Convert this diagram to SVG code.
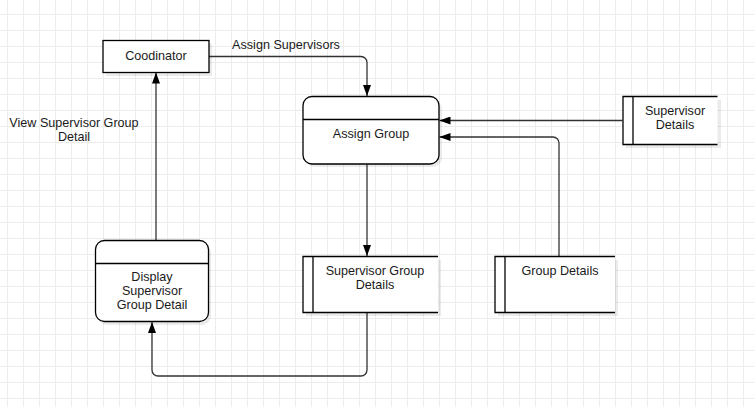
<svg xmlns="http://www.w3.org/2000/svg" width="754" height="407" viewBox="0 0 754 407">
<defs>
<pattern id="grid" x="7" y="14" width="16" height="16" patternUnits="userSpaceOnUse">
<path d="M0 0.5H16M0.5 0V16" fill="none" stroke="#ececec" stroke-width="1"/>
</pattern>
<marker id="arr" viewBox="0 0 11 8" refX="11" refY="4" markerWidth="11" markerHeight="8" markerUnits="userSpaceOnUse" orient="auto">
<path d="M0 0L11 4L0 8Z" fill="#000"/>
</marker>
<style>
.box{fill:#fff;stroke:#000;stroke-width:1.3}
.shadow{fill:#000;opacity:0.08}
.conn{fill:none;stroke:#333;stroke-width:1.3}
text{font-family:"Liberation Sans",Arial,sans-serif;font-size:12.6px;fill:#1a1a1a;text-anchor:middle}
</style>
</defs>
<rect width="754" height="407" fill="#fff"/>
<rect width="754" height="407" fill="url(#grid)"/>

<g id="connectors">
<path class="conn" d="M209 56.5H361a6 6 0 0 1 6 6V96" marker-end="url(#arr)"/>
<text x="286" y="48.5">Assign Supervisors</text>
<path class="conn" d="M622.5 120.5H439.5" marker-end="url(#arr)"/>
<path class="conn" d="M559 256.5V143a6 6 0 0 0 -6 -6H439.5" marker-end="url(#arr)"/>
<path class="conn" d="M367 164.5V256" marker-end="url(#arr)"/>
<path class="conn" d="M367 312.5V370a6 6 0 0 1 -6 6H158a6 6 0 0 1 -6 -6V322" marker-end="url(#arr)"/>
<path class="conn" d="M156 240.5V72.5" marker-end="url(#arr)"/>
<text x="74" y="127"><tspan x="74">View Supervisor Group</tspan><tspan x="74" dy="14.2">Detail</tspan></text>
</g>

<g id="coodinator">
<rect class="shadow" x="106" y="44" width="106" height="32"/>
<rect class="box" x="103" y="40.5" width="106" height="32"/>
<text x="156" y="60">Coodinator</text>
</g>

<g id="assign-group">
<rect class="shadow" x="306" y="100" width="136" height="67" rx="9"/>
<rect class="box" x="303" y="96.5" width="136" height="67.5" rx="9"/>
<path d="M303 119.5H439" stroke="#000" stroke-width="1.3"/>
<text x="371" y="137.5">Assign Group</text>
</g>

<g id="supervisor-details">
<rect class="shadow" x="626" y="100" width="95" height="48"/>
<path d="M717.5 96.5H623V144.5H717.5" fill="#fff" stroke="#000" stroke-width="1.3"/>
<path d="M633 96.5V144.5" stroke="#000" stroke-width="1.3"/>
<text x="675" y="115"><tspan x="675">Supervisor</tspan><tspan x="675" dy="14.2">Details</tspan></text>
</g>

<g id="group-details">
<rect class="shadow" x="498" y="260" width="120" height="56"/>
<path d="M615 256.5H495V312.5H615" fill="#fff" stroke="#000" stroke-width="1.3"/>
<path d="M505 256.5V312.5" stroke="#000" stroke-width="1.3"/>
<text x="560" y="275">Group Details</text>
</g>

<g id="supervisor-group-details">
<rect class="shadow" x="306" y="260" width="135" height="56"/>
<path d="M438 256.5H303V312.5H438" fill="#fff" stroke="#000" stroke-width="1.3"/>
<path d="M313 256.5V312.5" stroke="#000" stroke-width="1.3"/>
<text x="375" y="275"><tspan x="375">Supervisor Group</tspan><tspan x="375" dy="14.2">Details</tspan></text>
</g>

<g id="display-supervisor-group-detail">
<rect class="shadow" x="98" y="244" width="113" height="81" rx="9"/>
<rect class="box" x="95.5" y="240.5" width="113" height="81" rx="9"/>
<path d="M95.5 263.5H208.5" stroke="#000" stroke-width="1.3"/>
<text x="152" y="280.5"><tspan x="152">Display</tspan><tspan x="152" dy="14.2">Supervisor</tspan><tspan x="152" dy="14.2">Group Detail</tspan></text>
</g>
</svg>
